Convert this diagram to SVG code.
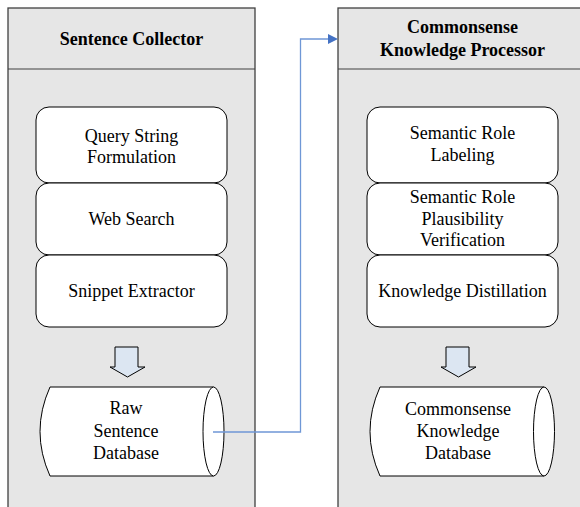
<svg xmlns="http://www.w3.org/2000/svg" width="580" height="507" viewBox="0 0 580 507">
<defs>
<style>
.panel{fill:#e6e6e6;stroke:#404040;stroke-width:1.3}
.sep{stroke:#404040;stroke-width:1.2;fill:none}
.box{fill:#fff;stroke:#000;stroke-width:1}
.t{font-family:'Liberation Serif','Times New Roman',Times,'DejaVu Serif','Noto Serif',serif;font-size:18px;fill:#000;text-anchor:middle}
.h{font-weight:bold}
.barrow{fill:#dce6f2;stroke:#000;stroke-width:1}
.conn{fill:none;stroke:#6f97d6;stroke-width:1.3}
</style>
<marker id="ah" markerWidth="10" markerHeight="10" refX="0" refY="5" orient="auto" markerUnits="userSpaceOnUse">
<path d="M0,0 L10,5 L0,10 Z" fill="#4472c4"/>
</marker>
</defs>
<rect width="580" height="507" fill="#fff"/>

<g id="sentence-collector">
<rect class="panel" x="8" y="8" width="247" height="520"/>
<line class="sep" x1="8" y1="69" x2="255" y2="69"/>
<text class="t h" x="131.5" y="45" font-family="Liberation Serif, serif">Sentence Collector</text>
</g>

<g id="commonsense-processor">
<rect class="panel" x="338" y="8" width="248" height="520"/>
<line class="sep" x1="338" y1="69" x2="586" y2="69"/>
<text class="t h" x="462.5" y="33">Commonsense</text>
<text class="t h" x="462.5" y="56">Knowledge Processor</text>
</g>

<g id="query-string">
<rect class="box" x="36" y="107" width="191" height="76" rx="13"/>
<text class="t" x="131.5" y="142">Query String</text>
<text class="t" x="131.5" y="163">Formulation</text>
</g>
<g id="web-search">
<rect class="box" x="36" y="183" width="191" height="72" rx="13"/>
<text class="t" x="131.5" y="225">Web Search</text>
</g>
<g id="snippet-extractor">
<rect class="box" x="36" y="255" width="191" height="72" rx="13"/>
<text class="t" x="131.5" y="297">Snippet Extractor</text>
</g>
<g id="arrow-left">
<path class="barrow" d="M115,347 H138 V367 H145 L127.5,377 L110,367 H115 Z"/>
</g>
<g id="raw-db">
<path class="box" d="M50,387 H213.5 A10.5,44.5 0 0 1 213.5,476 H50 Q30,431.5 50,387 Z"/>
<path class="box" fill="none" d="M213.5,387 A10.5,44.5 0 0 0 213.5,476"/>
<text class="t" x="126" y="414">Raw</text>
<text class="t" x="126" y="437">Sentence</text>
<text class="t" x="126" y="459">Database</text>
</g>

<g id="srl">
<rect class="box" x="367" y="107" width="191" height="76" rx="13"/>
<text class="t" x="462.5" y="139">Semantic Role</text>
<text class="t" x="462.5" y="161">Labeling</text>
</g>
<g id="srpv">
<rect class="box" x="367" y="183" width="191" height="72" rx="13"/>
<text class="t" x="462.5" y="203">Semantic Role</text>
<text class="t" x="462.5" y="225">Plausibility</text>
<text class="t" x="462.5" y="246">Verification</text>
</g>
<g id="distill">
<rect class="box" x="367" y="255" width="191" height="72" rx="13"/>
<text class="t" x="462.5" y="297">Knowledge Distillation</text>
</g>
<g id="arrow-right">
<path class="barrow" d="M446,347 H469 V367 H476 L458.5,377 L441,367 H446 Z"/>
</g>
<g id="ck-db">
<path class="box" d="M380,387 H544 A10.5,44.5 0 0 1 544,476 H380 Q360,431.5 380,387 Z"/>
<path class="box" fill="none" d="M544,387 A10.5,44.5 0 0 0 544,476"/>
<text class="t" x="458" y="415">Commonsense</text>
<text class="t" x="458" y="437">Knowledge</text>
<text class="t" x="458" y="459">Database</text>
</g>

<g id="connectors">
<path class="conn" d="M213,432 H300.5 V39 H328" marker-end="url(#ah)"/>
</g>
</svg>
